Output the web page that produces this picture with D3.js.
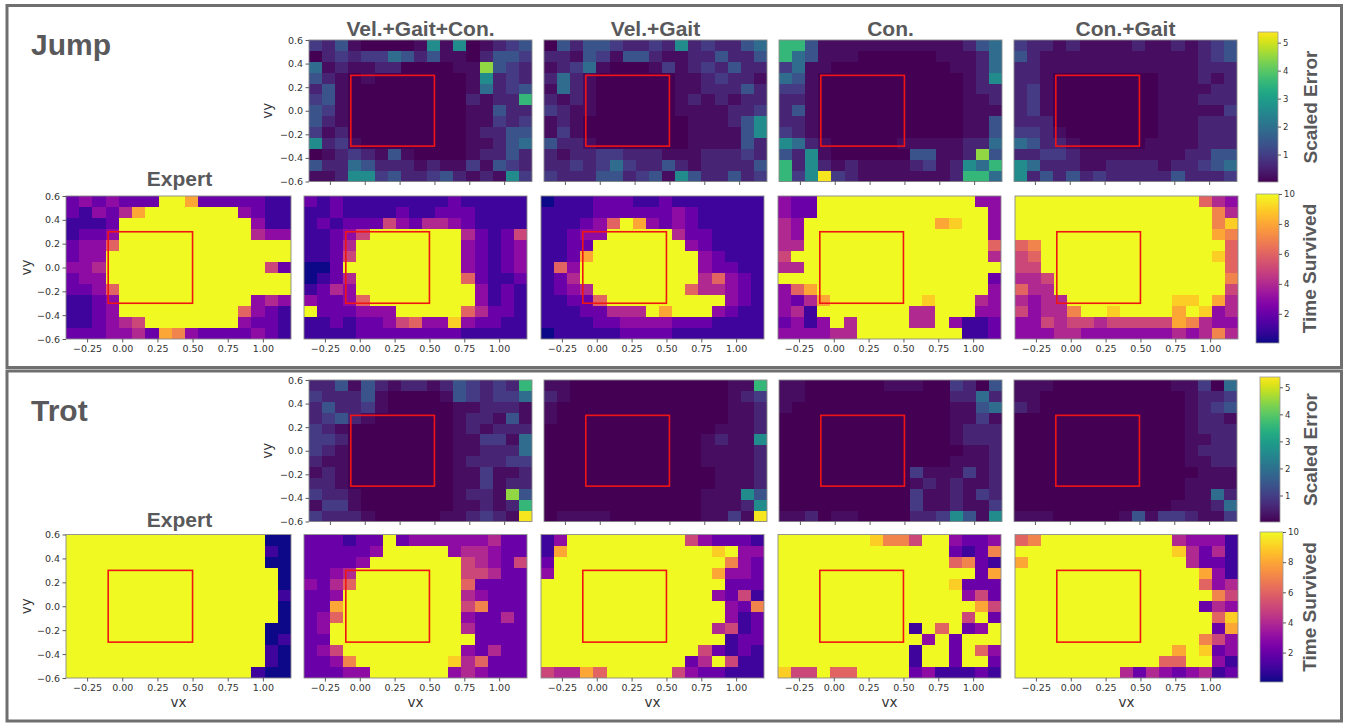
<!DOCTYPE html>
<html><head><meta charset="utf-8">
<script src="https://cdn.jsdelivr.net/npm/d3@7"></script>
<style>
body{margin:0;background:#fff;}
svg{display:block;}
text{font-family:"DejaVu Sans",sans-serif;}
.ttl{font-family:"Liberation Sans",Arial,sans-serif;font-weight:bold;fill:#59595b;}
</style></head><body>
<svg id="c" width="1347" height="723"></svg>
<script>
// ---------- data ----------
const methods = ["Vel.+Gait+Con.", "Vel.+Gait", "Con.", "Con.+Gait"];
const xTicks = [-0.25, 0, 0.25, 0.5, 0.75, 1.0];
const yTicks = [0.6, 0.4, 0.2, 0, -0.2, -0.4, -0.6];
const errTicks = [1, 2, 3, 4, 5];
const timeTicks = [2, 4, 6, 8, 10];
// error level code (0-9) -> scaled error value
const errLevel = [0.03, 0.2, 0.55, 0.95, 1.4, 1.9, 2.6, 3.6, 4.5, 5.3];
// time code: hex digit 0..a -> seconds survived

const jumpErrVGC = ["32410000161601234","02323354241102443","51211220000118432","42101000000016232","24100000000015234","34100000000021227","43100000000011422","42100000000011323","31200000000012244","62310000000011245","01232141000012242","42254222121131432","11266342234212163"];
const jumpErrVG = ["04244322326232245","22143144211224224","12351000131232422","25210000001123221","15210000001122242","21210000001212122","32110000001111223","12100000000111246","13100000000111146","42210000000111142","21223322211122232","22323532242122224","32224423416422423"];
const jumpErrCon = ["77411111111111245","75411100000011125","35110000000001125","54100000000000126","33100000000000122","22100000000000112","24100000000000111","22100000000000114","32100000000000114","65210000011111225","42610000004411284","72621211112312657","73693211111112775"];
const jumpErrCG = ["32212111121121234","42111111111111234","22111111111111222","22100000000111212","23100000000111122","23100000000111222","23100000000111113","22200000000111222","33210000000111222","54221000001111222","22332111111112244","65222112222122345","62424232222242223"];

const jumpTimeExpert = ["2323222aa82222211","213248aaaaaaa3211","1112aaaaaaaaaa311","1223aaaaaaaaaa433","2336aaaaaaaaaaaaa","233aaaaaaaaaaaaaa","334aaaaaaaaaaaa52","233aaaaaaaaaaaaaa","2236aaaaaaaaaaaaa","1123aaaaaaaaaa343","1123aaaaaaaaa6321","112345aaaaaaa3221","22233428732222321"];
const jumpTimeVGC = ["21211111111211111","11211112112221111","12122253244321111","11235aaaaaaa42125","1124aaaaaaaa32123","1125aaaaaaaa32123","002aaaaaaaaa32123","0124aaaaaaaa62112","1243aaaaaaaaa3121","32236aaaaaaaa3121","a222333aaaaa64221","11212235633932211","11112222222211111"];
const jumpTimeVG = ["01112221121111111","11112222223211111","111236a8323211111","11233aaaaa4221111","1122aaaaaaa321111","1128aaaaaaaa32111","163aaaaaaaaa32211","124aaaaaaaaa46321","1234aaaaaaa644321","11226aaaaaaaaa321","11122444a8aaa3211","11112233332221111","01111122221111111"];
const jumpTimeCon = ["322aaaaaaaaaaaa33","322aaaaaaaaaaaaa3","43aaaaaaaaaa89aa3","43aaaaaaaaaaaaaa3","44aaaaaaaaaaaaaa6","5aaaaaaaaaaaaaaa4","44aaaaaaaaaaaaaaa","aaaaaaaaaaaaaaaa2","368aaaaaaaaaaaaa3","3248aaaaaaa9aaa43","341aaaaaaa44aaa33","2313a4aaaa44a3112","333344aaaaaaaa112"];
const jumpTimeCG = ["aaaaaaaaaaaaaa643","aaaaaaaaaaaaaaa74","aaaaaaaaaaaaaaa79","aaaaaaaaaaaaaaa87","67aaaaaaaaaaaaaa6","56aaaaaaaaaaaaa96","55aaaaaaaaaaaaaa6","445aaaaaaaaaaaaa7","644aaaaaaaaaaaaa5","4344aaaaaaaa99a84","53447aa9aaaa8a934","33545545555587433","33344333333343474"];

const trotErrVGC = ["22414212212432327","32224100001432335","24223100000112221","23421000000122141","32100000000121222","33200000000113315","32100000000112225","21100000000122233","12100000000113112","22100000000113122","32210000000122184","13310000000112127","32221000001123219"];
const trotErrVG = ["11000000000000117","21000000000000123","10000000000000112","10000000000000112","00000000000001112","00000000000012116","00000000000011112","00000000000011112","00000000000001112","00000000000001112","00000000000011164","00000000000011126","01111000000011319"];
const trotErrCon = ["11000000111003204","11000000000002252","10000000000001145","00000000000001131","00000000000001222","00000000000001222","00000000000000112","00000000000001112","00000000003111312","00000000001212112","00000000003112132","00000000003112113","11201100002236416"];
const trotErrCG = ["11100000000011305","11000000000001223","21000000000001234","00000000000001221","00000000000001222","00000000000001122","00000000000001222","00000000000001122","00000000000000111","00000000000001111","00000000000001152","00000000000011125","11100000141332113"];

const trotTimeExpert = ["aaaaaaaaaaaaaaa00","aaaaaaaaaaaaaaa10","aaaaaaaaaaaaaaa00","aaaaaaaaaaaaaaaa0","aaaaaaaaaaaaaaaa0","aaaaaaaaaaaaaaaa1","aaaaaaaaaaaaaaaa0","aaaaaaaaaaaaaaaa0","aaaaaaaaaaaaaaa00","aaaaaaaaaaaaaaa01","aaaaaaaaaaaaaaa10","aaaaaaaaaaaaaaa10","aaaaaaaaaaaaaa100"];
const trotTimeVGC = ["222122a2333333422","222223aaaaa344322","22223aaaaaaa54325","2234aaaaaaaa55422","3246aaaaaaaa62222","223aaaaaaaaa43222","228aaaaaaaaa57222","236aaaaaaaaa32242","23aaaaaaaaaa42222","22aaaaaaaaaaa2222","235aaaaaaaaa32422","2237aaaaaaa946222","22233aaaaaa343222"];
const trotTimeVG = ["13aaaaaaaaa532221","18aaaaaaaaaaa9a33","2aaaaaaaaaaaaa732","3aaaaaaaaaaaa8332","aaaaaaaaaaaaaa222","aaaaaaaaaaaaa3251","aaaaaaaaaaaaaa327","aaaaaaaaaaaaaa312","aaaaaaaaaaaaa4512","aaaaaaaaaaaaaa122","aaaaaaaaaaaa52121","aaaaaaaaaaa24a511","54486aaaaa5322111"];
const trotTimeCon = ["aaaaaaa9775aa3223","aaaaaaaaaaaaa2127","aaaaaaaaaaaaa6721","aaaaaaaaaaaaaaa28","aaaaaaaaaaaaa9222","aaaaaaaaaaaaaa352","aaaaaaaaaaaaaaa85","aaaaaaaaaaaaaa5a2","aaaaaaaaaa1a6a23a","aaaaaaaaaaa3a2aaa","aaaaaaaaaa1aa2a63","aaaaaaaaaa1aa2aa2","955a66aaaa2311121"];
const trotTimeCG = ["67aaaaaaaaaa43331","aaaaaaaaaaaa94241","8aaaaaaaaaaaa4221","aaaaaaaaaaaaaa831","aaaaaaaaaaaaaa634","aaaaaaaaaaaaaaa75","aaaaaaaaaaaaaa243","aaaaaaaaaaaaaaa69","aaaaaaaaaaaaaaa28","aaaaaaaaaaaaaa753","aaaaaaaaaaaa8a923","aaaaaaaaaaa66aa31","aaaaaaaa424323412"];

// ---------- drawing ----------
const svg = d3.select("#c");
const xDomain = [-0.4, 1.2], yDomain = [-0.6, 0.6];
const boxX = [-0.1, 0.5], boxY = [-0.3, 0.3];
const errColor = d3.scaleSequential(d3.interpolateViridis).domain([0.02, 5.38]);
const timeColor = d3.scaleSequential(d3.interpolatePlasma).domain([0.05, 10]);
const decErr = c => errLevel[+c];
const decTime = c => parseInt(c, 16);
const fmtX = d3.format(".2f"), fmtY = d3.format(".1f");

// outer panel frames
svg.append("rect").attr("x",7).attr("y",5.5).attr("width",1334.5).attr("height",362)
  .attr("fill","none").attr("stroke","#6f6f6f").attr("stroke-width",3);
svg.append("rect").attr("x",7).attr("y",371).attr("width",1334.5).attr("height",350)
  .attr("fill","none").attr("stroke","#6f6f6f").attr("stroke-width",3);

function styleAxis(g){
  g.select(".domain").remove();
  g.selectAll(".tick line").attr("stroke","#333").attr("stroke-width",0.8);
  g.selectAll(".tick text").attr("fill","#333").style("font-size","9.5px");
}

function heatmap(rows, kind, x0, x1, y0, y1, o){
  const g = svg.append("g");
  const xs = d3.scaleLinear().domain(xDomain).range([x0, x1]);
  const ys = d3.scaleLinear().domain(yDomain).range([y1, y0]);
  const cb = d3.scaleBand().domain(d3.range(rows[0].length)).range([x0, x1]);
  const rb = d3.scaleBand().domain(d3.range(rows.length)).range([y0, y1]);
  const cells = rows.flatMap((r, i) => [...r].map((c, j) => ({i, j, v: kind === "err" ? decErr(c) : decTime(c)})));
  const color = kind === "err" ? errColor : timeColor;
  g.append("g").attr("shape-rendering","crispEdges")
    .selectAll("rect").data(cells).join("rect")
    .attr("x", d => cb(d.j)).attr("y", d => rb(d.i))
    .attr("width", d => cb.bandwidth() + (d.j < rows[0].length - 1 ? 0.8 : 0))
    .attr("height", d => rb.bandwidth() + (d.i < rows.length - 1 ? 0.8 : 0))
    .attr("fill", d => color(d.v));
  g.append("rect").attr("x", x0).attr("y", y0).attr("width", x1 - x0).attr("height", y1 - y0)
    .attr("fill","none").attr("stroke","#8a8a8a").attr("stroke-width",0.9);
  g.append("rect").attr("x", xs(boxX[0])).attr("y", ys(boxY[1]))
    .attr("width", xs(boxX[1]) - xs(boxX[0])).attr("height", ys(boxY[0]) - ys(boxY[1]))
    .attr("fill","none").attr("stroke","#f01414").attr("stroke-width",1.6);
  const ax = g.append("g").attr("transform", `translate(0,${y1})`)
    .call(d3.axisBottom(xs).tickValues(xTicks).tickSize(3.5).tickPadding(3)
      .tickFormat(o.xLabels ? fmtX : ""));
  styleAxis(ax);
  if (o.yAxis){
    const ay = g.append("g").attr("transform", `translate(${x0},0)`)
      .call(d3.axisLeft(ys).tickValues(yTicks).tickSize(3.5).tickPadding(2.5).tickFormat(fmtY));
    styleAxis(ay);
    g.append("text").attr("transform", `translate(${o.vyX},${(y0+y1)/2}) rotate(-90)`)
      .attr("text-anchor","middle").attr("dominant-baseline","central")
      .style("font-size","13.5px").attr("fill","#333").text("vy");
  }
  if (o.vx){
    g.append("text").attr("x",(x0+x1)/2).attr("y",y1+29).attr("text-anchor","middle")
      .style("font-size","13.5px").attr("fill","#333").text("vx");
  }
}

function colorbar(kind, x0, x1, y0, y1, label, labelX){
  const id = "grad-" + kind + y0;
  const interp = kind === "err" ? d3.interpolateViridis : d3.interpolatePlasma;
  const grad = svg.append("defs").append("linearGradient").attr("id", id)
    .attr("x1","0").attr("y1","1").attr("x2","0").attr("y2","0");
  d3.range(0, 1.0001, 0.05).forEach(t => grad.append("stop").attr("offset", t).attr("stop-color", interp(t)));
  svg.append("rect").attr("x", x0).attr("y", y0).attr("width", x1 - x0).attr("height", y1 - y0)
    .attr("fill", `url(#${id})`).attr("stroke","#9a9a9a").attr("stroke-width",0.8);
  const sc = (kind === "err" ? errColor : timeColor).copy();
  const ys = d3.scaleLinear().domain(sc.domain()).range([y1, y0]);
  const ax = svg.append("g").attr("transform", `translate(${x1},0)`)
    .call(d3.axisRight(ys).tickValues(kind === "err" ? errTicks : timeTicks).tickSize(3).tickPadding(2).tickFormat(d3.format("d")));
  styleAxis(ax);
  ax.selectAll(".tick text").style("font-size","8.5px");
  svg.append("text").attr("class","ttl").attr("transform", `translate(${labelX},${(y0+y1)/2}) rotate(-90)`)
    .attr("text-anchor","middle").attr("dominant-baseline","central")
    .style("font-size","19px").text(label);
}

const errX = [[309,532],[544,767],[779,1002],[1014,1237]];
const timeX = [[66,291],[304,527],[541,764],[778,1001],[1015,1238]];

const sections = [
  {name:"Jump", nameY:55, err:[jumpErrVGC,jumpErrVG,jumpErrCon,jumpErrCG],
   time:[jumpTimeExpert,jumpTimeVGC,jumpTimeVG,jumpTimeCon,jumpTimeCG],
   errY:[40,181.5], timeY:[196,339], expertY:186, vx:false,
   cbErr:[1258,1278,32,182], cbTime:[1256,1279,194,343], titles:true},
  {name:"Trot", nameY:421, err:[trotErrVGC,trotErrVG,trotErrCon,trotErrCG],
   time:[trotTimeExpert,trotTimeVGC,trotTimeVG,trotTimeCon,trotTimeCG],
   errY:[380,521.5], timeY:[534.5,678], expertY:527, vx:true,
   cbErr:[1260,1280,377,522], cbTime:[1260,1283,532,682], titles:false}
];

sections.forEach(s => {
  svg.append("text").attr("class","ttl").attr("x",31).attr("y",s.nameY)
    .style("font-size","30px").text(s.name);
  s.err.forEach((rows, k) => {
    heatmap(rows, "err", errX[k][0], errX[k][1], s.errY[0], s.errY[1],
      {xLabels:false, yAxis:k===0, vyX:267, vx:false});
    if (s.titles){
      svg.append("text").attr("class","ttl").attr("x",(errX[k][0]+errX[k][1])/2).attr("y",36)
        .attr("text-anchor","middle").style("font-size","21px").text(methods[k]);
    }
  });
  s.time.forEach((rows, k) => {
    heatmap(rows, "time", timeX[k][0], timeX[k][1], s.timeY[0], s.timeY[1],
      {xLabels:true, yAxis:k===0, vyX:26, vx:s.vx});
  });
  svg.append("text").attr("class","ttl").attr("x",(timeX[0][0]+timeX[0][1])/2+1).attr("y",s.expertY)
    .attr("text-anchor","middle").style("font-size","21px").text("Expert");
  colorbar("err", ...s.cbErr, "Scaled Error", 1310);
  colorbar("time", ...s.cbTime, "Time Survived", 1309);
});
</script>
</body></html>
